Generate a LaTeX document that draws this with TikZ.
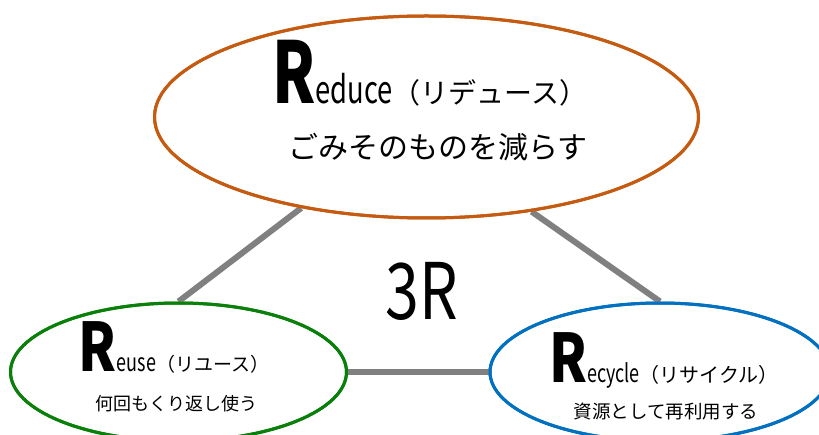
\documentclass[tikz,border=0pt]{standalone}
\usepackage{fontspec}
\setmainfont{Noto Sans CJK JP}
\newfontfamily\cond[FakeStretch=0.72]{Noto Sans CJK JP}
\newfontfamily\condw[FakeStretch=0.8]{Noto Sans CJK JP}
\newfontfamily\condr[FakeStretch=0.78]{Noto Sans CJK JP}
\usetikzlibrary{shapes.geometric}
\definecolor{cOrange}{HTML}{C55A11}
\definecolor{cGreen}{HTML}{0A800A}
\definecolor{cBlue}{HTML}{0070C0}
\definecolor{cGray}{HTML}{808080}
\newcommand{\fs}[1]{\fontsize{#1}{#1}\selectfont}
\tikzset{
  bubble/.style={ellipse, draw, line width=3pt, fill=white, inner sep=0pt},
  link/.style={draw=cGray, line width=6pt},
  txt/.style={inner sep=0pt, anchor=base},
}
\begin{document}
\begin{tikzpicture}[x=1pt,y=-1pt]
\useasboundingbox (0,0) rectangle (819,435);
% ellipses
\node[bubble, draw=cOrange, minimum width=544pt, minimum height=202pt] (top) at (426.5,117) {};
\node[bubble, draw=cGreen, minimum width=336pt, minimum height=138pt] (left) at (178.5,372) {};
\node[bubble, draw=cBlue, minimum width=340pt, minimum height=138pt] (right) at (660,372) {};
% connectors
\draw[link] (top.216) -- (left.north);
\draw[link] (top.318) -- (right.north);
\draw[link] (left.east) -- (right.west);
% ellipse outlines above connector ends
\node[bubble, fill=none, draw=cOrange, minimum width=544pt, minimum height=202pt] (topO) at (426.5,117) {};
\node[bubble, fill=none, draw=cGreen, minimum width=336pt, minimum height=138pt] (leftO) at (178.5,372) {};
\node[bubble, fill=none, draw=cBlue, minimum width=340pt, minimum height=138pt] (rightO) at (660,372) {};
% texts
\node[txt] (t1) at (430,104) {{\cond\bfseries\fs{85}R}{\cond\fs{38}educe}{\fs{28}（リデュース）}};
\node[txt] (t2) at (438,159) {\fs{30}ごみそのものを減らす};
\node[txt] (l1) at (174,372) {{\condw\bfseries\fs{67}R}{\cond\fs{25}euse}{\fs{19}（リユース）}};
\node[txt] (l2) at (176,410) {\fs{18}何回もくり返し使う};
\node[txt] (r1) at (664,382) {{\condw\bfseries\fs{67}R}{\cond\fs{25}ecycle}{\fs{20}（リサイクル）}};
\node[txt] (r2) at (666,418) {\fs{18.5}資源として再利用する};
\node[txt] (c) at (422,320) {\condr\fs{78}3R};
\end{tikzpicture}
\end{document}
